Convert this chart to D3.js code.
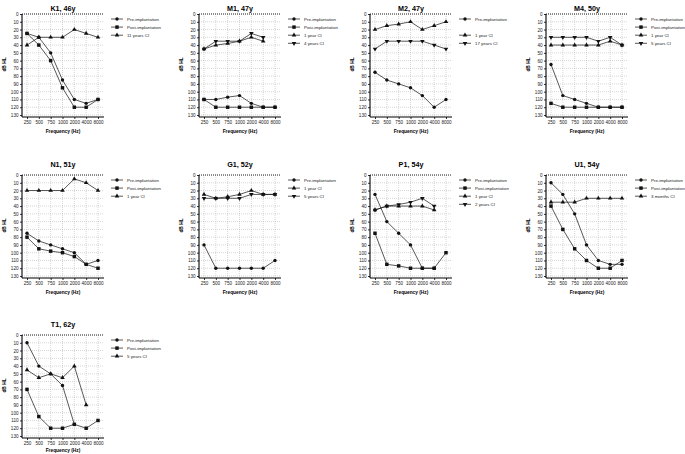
<!DOCTYPE html>
<html>
<head>
<meta charset="utf-8">
<script src="https://cdn.jsdelivr.net/npm/d3@7"></script>
<style>
  body { margin: 0; background: #fff; }
  svg { font-family: "Liberation Sans", Arial, sans-serif; }
</style>
</head>
<body>
<div id="chart"></div>
<script>
// frequencies (Hz) and hearing level ticks (dB HL)
const freqs = ["250", "500", "750", "1000", "2000", "4000", "8000"];
const dbTicks = [0, 10, 20, 30, 40, 50, 60, 70, 80, 90, 100, 110, 120, 130];

// K1, 46y
const k1Pre = [25, 30, 50, 85, 110, 115, 110];
const k1Post = [25, 40, 60, 95, 120, 120, 110];
const k1Ci11y = [40, 30, 30, 30, 20, 25, 30];
// M1, 47y
const m1Pre = [110, 110, 107, 105, 115, 120, 120];
const m1Post = [110, 120, 120, 120, 120, 120, 120];
const m1Ci1y = [45, 40, 38, 35, 30, 35, null];
const m1Ci4y = [45, 35, 35, 35, 25, 30, null];
// M2, 47y
const m2Pre = [75, 85, 90, 95, 105, 120, 110];
const m2Ci1y = [20, 15, 13, 10, 20, 15, 10];
const m2Ci17y = [45, 35, 35, 35, 35, 40, 45];
// M4, 50y
const m4Pre = [65, 105, 110, 115, 120, 120, 120];
const m4Post = [115, 120, 120, 120, 120, 120, 120];
const m4Ci1y = [40, 40, 40, 40, 40, 35, 40];
const m4Ci5y = [30, 30, 30, 30, 35, 30, 40];
// N1, 51y
const n1Pre = [75, 85, 90, 95, 100, 115, 110];
const n1Post = [80, 95, 98, 100, 105, 115, 120];
const n1Ci1y = [20, 20, 20, 20, 5, 10, 20];
// G1, 52y
const g1Pre = [90, 120, 120, 120, 120, 120, 110];
const g1Ci1y = [25, 30, 28, 25, 20, 25, 25];
const g1Ci5y = [30, 30, 30, 30, 25, 25, 25];
// P1, 54y
const p1Pre = [25, 60, 75, 90, 120, 120, null];
const p1Post = [75, 115, 117, 120, 120, 120, 100];
const p1Ci1y = [45, 40, 40, 40, 40, 45, null];
const p1Ci2y = [45, 40, 38, 35, 30, 40, null];
// U1, 54y
const u1Pre = [10, 25, 50, 90, 110, 115, 115];
const u1Post = [40, 70, 95, 110, 120, 120, 110];
const u1Ci3m = [35, 35, 35, 30, 30, 30, 30];
// T1, 62y
const t1Pre = [10, 40, 50, 65, 115, null, null];
const t1Post = [70, 105, 120, 120, 115, 120, 110];
const t1Ci5y = [45, 55, 50, 55, 40, 90, null];

const panels = [
  { title: "K1, 46y", col: 0, row: 0, series: [
    { name: "Pre-implantation", sym: "circle", slot: 0, values: k1Pre },
    { name: "Post-implantation", sym: "square", slot: 1, values: k1Post },
    { name: "11 years CI", sym: "up", slot: 2, values: k1Ci11y }] },
  { title: "M1, 47y", col: 1, row: 0, series: [
    { name: "Pre-implantation", sym: "circle", slot: 0, values: m1Pre },
    { name: "Post-implantation", sym: "square", slot: 1, values: m1Post },
    { name: "1 year CI", sym: "up", slot: 2, values: m1Ci1y },
    { name: "4 years CI", sym: "down", slot: 3, values: m1Ci4y }] },
  { title: "M2, 47y", col: 2, row: 0, series: [
    { name: "Pre-implantation", sym: "circle", slot: 0, values: m2Pre },
    { name: "1 year CI", sym: "up", slot: 2, values: m2Ci1y },
    { name: "17 years CI", sym: "down", slot: 3, values: m2Ci17y }] },
  { title: "M4, 50y", col: 3, row: 0, series: [
    { name: "Pre-implantation", sym: "circle", slot: 0, values: m4Pre },
    { name: "Post-implantation", sym: "square", slot: 1, values: m4Post },
    { name: "1 year CI", sym: "up", slot: 2, values: m4Ci1y },
    { name: "5 years CI", sym: "down", slot: 3, values: m4Ci5y }] },
  { title: "N1, 51y", col: 0, row: 1, series: [
    { name: "Pre-implantation", sym: "circle", slot: 0, values: n1Pre },
    { name: "Post-implantation", sym: "square", slot: 1, values: n1Post },
    { name: "1 year CI", sym: "up", slot: 2, values: n1Ci1y }] },
  { title: "G1, 52y", col: 1, row: 1, series: [
    { name: "Pre-implantation", sym: "circle", slot: 0, values: g1Pre },
    { name: "1 year CI", sym: "up", slot: 1, values: g1Ci1y },
    { name: "5 years CI", sym: "down", slot: 2, values: g1Ci5y }] },
  { title: "P1, 54y", col: 2, row: 1, series: [
    { name: "Pre-implantation", sym: "circle", slot: 0, values: p1Pre },
    { name: "Post-implantation", sym: "square", slot: 1, values: p1Post },
    { name: "1 year CI", sym: "up", slot: 2, values: p1Ci1y },
    { name: "2 years CI", sym: "down", slot: 3, values: p1Ci2y }] },
  { title: "U1, 54y", col: 3, row: 1, series: [
    { name: "Pre-implantation", sym: "circle", slot: 0, values: u1Pre },
    { name: "Post-implantation", sym: "square", slot: 1, values: u1Post },
    { name: "3 months CI", sym: "up", slot: 2, values: u1Ci3m }] },
  { title: "T1, 62y", col: 0, row: 2, series: [
    { name: "Pre-implantation", sym: "circle", slot: 0, values: t1Pre },
    { name: "Post-implantation", sym: "square", slot: 1, values: t1Post },
    { name: "5 years CI", sym: "up", slot: 2, values: t1Ci5y }] }
];

// layout of the grid
const colX = [22, 199, 370, 546];
const rowTop = [14, 175, 335];
const titleY = [10.5, 167, 327];
const freqLabelY = [133, 294, 451.5];
const plotH = 101;

const symbols = {
  circle: d3.symbol().type(d3.symbolCircle).size(9),
  square: d3.symbol().type(d3.symbolSquare).size(12),
  up: d3.symbol().type(d3.symbolTriangle).size(9),
  down: d3.symbol().type(d3.symbolTriangle).size(9)
};

const svg = d3.select("#chart").append("svg")
  .attr("width", 685)
  .attr("height", 454);

panels.forEach(p => {
  const x0 = colX[p.col];
  const top = rowTop[p.row];
  const g = svg.append("g");

  const x = d3.scalePoint().domain(freqs).range([x0 + 5, x0 + 76]);
  const y = d3.scaleLinear().domain([0, 130]).range([top, top + plotH]);
  const right = x0 + 82;

  // dotted grid
  g.append("g").selectAll("line.h").data(dbTicks.slice(1)).enter().append("line")
    .attr("x1", x0).attr("x2", right)
    .attr("y1", d => y(d)).attr("y2", d => y(d))
    .attr("stroke", "#bbb").attr("stroke-width", 0.6).attr("stroke-dasharray", "1,1");
  g.append("g").selectAll("line.v").data(freqs).enter().append("line")
    .attr("x1", d => x(d)).attr("x2", d => x(d))
    .attr("y1", top).attr("y2", top + plotH)
    .attr("stroke", "#bbb").attr("stroke-width", 0.6).attr("stroke-dasharray", "1,1");
  // 0 dB reference line
  g.append("line")
    .attr("x1", x0).attr("x2", right)
    .attr("y1", y(0)).attr("y2", y(0))
    .attr("stroke", "#000").attr("stroke-width", 0.9).attr("stroke-dasharray", "1,1");

  // axes
  const yAxis = g.append("g")
    .attr("transform", `translate(${x0},0)`)
    .call(d3.axisLeft(y).tickValues(dbTicks).tickSize(2).tickPadding(1.5));
  const xAxis = g.append("g")
    .attr("transform", `translate(0,${top + plotH + 2})`)
    .call(d3.axisBottom(x).tickSize(2).tickPadding(2));
  xAxis.select(".domain").attr("d", `M${x0},0H${right}`);
  [yAxis, xAxis].forEach(a => {
    a.select(".domain").attr("stroke-width", 1.1);
    a.selectAll(".tick line").attr("stroke-width", 0.8);
    a.selectAll("text").attr("font-size", 4.6).attr("fill", "#222")
      .attr("font-family", "Liberation Sans, Arial, sans-serif");
  });
  yAxis.select(".domain").attr("d", `M0,${top}V${top + plotH + 2}`);

  // labels
  g.append("text")
    .attr("x", (x0 + right) / 2).attr("y", titleY[p.row])
    .attr("text-anchor", "middle").attr("font-size", 7.2).attr("font-weight", "bold")
    .text(p.title);
  g.append("text")
    .attr("x", (x0 + right) / 2).attr("y", freqLabelY[p.row])
    .attr("text-anchor", "middle").attr("font-size", 4.8).attr("font-weight", "bold")
    .text("Frequency (Hz)");
  g.append("text")
    .attr("transform", `translate(${x0 - 16},${top + plotH / 2}) rotate(-90)`)
    .attr("text-anchor", "middle").attr("font-size", 4.8).attr("font-weight", "bold")
    .text("dB HL");

  const line = d3.line()
    .defined(d => d != null)
    .x((d, i) => x(freqs[i]))
    .y(d => y(d));

  p.series.forEach(s => {
    g.append("path")
      .datum(s.values)
      .attr("d", line)
      .attr("fill", "none")
      .attr("stroke", "#111")
      .attr("stroke-width", 0.7);
    g.append("g").selectAll("path")
      .data(s.values.map((v, i) => ({ v, f: freqs[i] })).filter(d => d.v != null))
      .enter().append("path")
      .attr("d", symbols[s.sym])
      .attr("transform", d => `translate(${x(d.f)},${y(d.v)})` + (s.sym === "down" ? " rotate(180)" : ""))
      .attr("fill", "#111");

    // legend entry
    const lx = x0 + 89;
    const ly = top + 5 + s.slot * 8.1;
    g.append("line")
      .attr("x1", lx).attr("x2", lx + 12).attr("y1", ly).attr("y2", ly)
      .attr("stroke", "#111").attr("stroke-width", 0.7);
    g.append("path")
      .attr("d", symbols[s.sym])
      .attr("transform", `translate(${lx + 6},${ly})` + (s.sym === "down" ? " rotate(180)" : ""))
      .attr("fill", "#111");
    g.append("text")
      .attr("x", lx + 16).attr("y", ly + 1.5)
      .attr("font-size", 4.4).attr("fill", "#222")
      .text(s.name);
  });
});
</script>
</body>
</html>
